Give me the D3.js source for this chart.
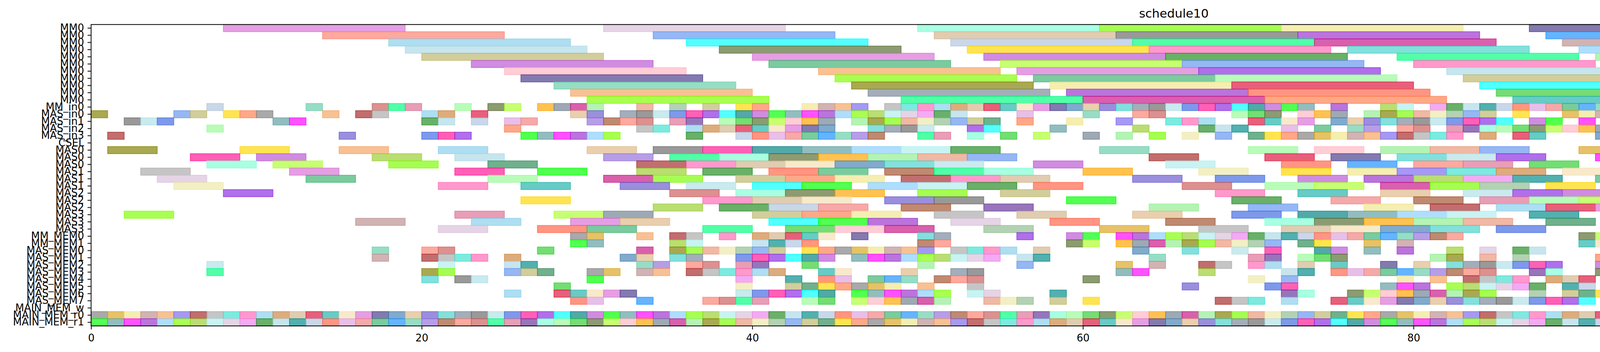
<!DOCTYPE html>
<html>
<head>
<meta charset="utf-8">
<title>schedule10</title>
<style>
    html, body { margin: 0; padding: 0; background: #fff; overflow: hidden; }
    svg { display: block; }
    text { font-family: "DejaVu Sans", sans-serif; fill: #000; }
    g.axis path, g.axis line { stroke: #000; stroke-width: 2; }
    g.axis text { font-size: 26px; }
    rect.task { stroke-width: 2; }
</style>
</head>
<body>
<div id="target"></div>

<script src="https://cdnjs.cloudflare.com/ajax/libs/d3/7.8.5/d3.min.js"></script>
<script>
    var rowLabels = [
        'MM0', 'MM0', 'MM0', 'MM0', 'MM0', 'MM0', 'MM0', 'MM0', 'MM0', 'MM0', 'MM0',
        'MM_in0', 'MAS_in0', 'MAS_in1', 'MAS_in2', 'MAS_in3', 'CSEL',
        'MAS0', 'MAS0', 'MAS0', 'MAS1', 'MAS1', 'MAS1',
        'MAS2', 'MAS2', 'MAS2', 'MAS3', 'MAS3', 'MAS3',
        'MM_MEM0', 'MM_MEM1',
        'MAS_MEM0', 'MAS_MEM1', 'MAS_MEM2', 'MAS_MEM3', 'MAS_MEM4', 'MAS_MEM5', 'MAS_MEM6', 'MAS_MEM7',
        'MAIN_MEM_w', 'MAIN_MEM_r0', 'MAIN_MEM_r1'
    ];

    // start times of the tasks, one list per row; each group has its own task length
    var mm0Length = 11;
    var mm0Starts = [
        [8, 31, 50, 61, 72, 87, 98, 110],
        [14, 34, 51, 62, 73, 88, 100, 111],
        [18, 36, 52, 63, 74, 89, 101, 112],
        [19, 38, 53, 64, 76, 90, 102, 113],
        [20, 40, 54, 65, 79, 91, 103, 114],
        [23, 41, 55, 66, 80, 92, 104, 115],
        [25, 44, 56, 67, 82, 93, 105, 116],
        [26, 45, 57, 68, 83, 94, 106, 117],
        [28, 46, 58, 69, 84, 95, 107, 118],
        [29, 47, 59, 70, 85, 96, 108, 119],
        [30, 49, 60, 71, 86, 97, 109]
    ];

    var inputLength = 1;
    var inputStarts = [
        [7, 13, 17, 18, 19, 22, 24, 25, 27, 28, 29, 30, 33, 35, 37, 39, 40, 43, 44, 45, 46, 48, 49, 50, 51, 52,
            53, 54, 55, 56, 57, 58, 59, 60, 61, 62, 63, 64, 65, 66, 67, 68, 69, 70, 71, 72, 73, 75, 78, 79, 81,
            82, 83, 84, 85, 86, 87, 88, 89, 90, 91, 92, 93, 94, 95, 96, 97, 99, 100, 101, 102, 103, 104, 105,
            106, 107, 108, 109, 110, 111, 112, 113, 114, 115, 116, 117, 118],
        [0, 5, 6, 8, 9, 10, 14, 16, 17, 20, 21, 23, 29, 30, 32, 33, 34, 35, 36, 37, 38, 39, 40, 41, 42, 43, 44,
            45, 46, 47, 48, 49, 50, 51, 52, 56, 60, 63, 64, 69, 70, 71, 73, 74, 75, 77, 78, 79, 80, 81, 82, 83,
            84, 86, 89, 90, 91, 92, 93, 94, 95, 96, 97, 98, 99, 101, 103, 104, 105, 106, 108, 110, 111, 116,
            119, 125],
        [2, 3, 4, 11, 12, 20, 21, 23, 25, 26, 30, 31, 32, 33, 35, 36, 38, 39, 40, 41, 42, 43, 44, 46, 47, 48,
            49, 50, 51, 52, 53, 54, 56, 59, 62, 65, 66, 67, 70, 71, 72, 73, 75, 76, 77, 78, 79, 80, 81, 82, 83,
            84, 85, 87, 88, 90, 95, 96, 97, 100, 102, 106, 107, 109, 114, 115, 117, 123, 126, 127],
        [7, 25, 33, 34, 36, 37, 38, 39, 40, 41, 42, 43, 44, 47, 48, 49, 50, 53, 54, 58, 63, 67, 68, 69, 72, 74,
            76, 77, 79, 80, 82, 83, 84, 85, 86, 87, 88, 89, 90, 91, 92, 93, 94, 96, 97, 98, 100, 102, 103, 104,
            105, 106, 108, 109, 111, 112, 116, 121],
        [1, 15, 20, 21, 22, 26, 27, 28, 29, 30, 31, 36, 39, 40, 41, 42, 43, 44, 45, 46, 47, 50, 51, 53, 55, 57,
            60, 62, 64, 66, 68, 70, 71, 72, 73, 74, 75, 76, 77, 78, 79, 80, 81, 82, 84, 86, 87, 91, 93, 96, 97,
            98, 99, 101, 103, 104, 107, 108, 113, 118, 120, 122, 124]
    ];

    var cselLength = 1;
    var cselStarts = [
        []
    ];

    var masLength = 3;
    var masStarts = [
        [1, 9, 15, 21, 30, 34, 37, 40, 43, 46, 49, 52, 61, 70, 74, 78, 81, 84, 90, 93, 96, 99, 104, 107, 112, 126],
        [6, 10, 17, 22, 31, 35, 38, 41, 44, 47, 50, 53, 64, 71, 75, 79, 82, 85, 91, 94, 97, 100, 105, 109, 117],
        [7, 11, 18, 24, 33, 36, 39, 42, 45, 48, 51, 57, 65, 72, 76, 80, 83, 87, 92, 95, 98, 102, 106, 111, 120],
        [3, 12, 22, 27, 33, 37, 41, 44, 48, 51, 54, 60, 67, 72, 76, 79, 82, 85, 89, 97, 103, 110, 118, 128],
        [4, 13, 24, 31, 34, 39, 42, 45, 49, 52, 55, 63, 68, 73, 77, 80, 83, 86, 91, 98, 107, 115, 124],
        [5, 21, 26, 32, 36, 40, 43, 47, 50, 53, 57, 66, 71, 74, 78, 81, 84, 88, 96, 101, 108, 116, 127],
        [8, 35, 39, 42, 45, 50, 55, 68, 73, 78, 83, 86, 89, 92, 95, 99, 104, 107, 112, 122],
        [26, 37, 40, 43, 48, 51, 59, 69, 75, 80, 84, 87, 90, 93, 97, 101, 105, 109, 113],
        [34, 38, 41, 44, 49, 54, 64, 70, 77, 81, 85, 88, 91, 94, 98, 103, 106, 110, 117],
        [2, 22, 28, 31, 40, 43, 46, 51, 56, 63, 69, 73, 76, 79, 82, 87, 94, 99, 104, 109, 121],
        [16, 23, 29, 32, 41, 44, 47, 52, 58, 65, 71, 74, 77, 80, 83, 88, 97, 100, 105, 114, 123],
        [21, 27, 30, 37, 42, 45, 48, 54, 61, 67, 72, 75, 78, 81, 85, 92, 98, 102, 108, 119, 125]
    ];

    var memLength = 1;
    var memStarts = [
        [29, 30, 33, 35, 36, 38, 40, 41, 42, 43, 44, 46, 50, 51, 56, 59, 60, 62, 63, 64, 65, 66, 67, 68, 69, 70,
            71, 72, 73, 74, 75, 76, 77, 78, 79, 80, 81, 82, 90, 91, 92, 93, 94, 96, 97, 98, 99, 100, 101, 102,
            103, 104, 105, 106, 107, 108, 109, 110, 111, 112, 113, 114, 115, 116, 117, 118, 119, 120, 121, 122,
            123, 124, 125, 126, 127],
        [29, 30, 35, 36, 40, 41, 42, 43, 50, 51, 59, 60, 62, 63, 64, 65, 66, 67, 68, 69, 70, 71, 73, 74, 77, 79,
            90, 91, 92, 93, 96, 97, 98, 99, 100, 101, 102, 103, 106, 107, 108, 111, 112, 113, 114, 115, 116,
            117, 118, 119, 122, 123, 124, 125],
        [17, 20, 21, 27, 33, 35, 36, 37, 38, 39, 40, 41, 43, 44, 45, 46, 47, 48, 49, 50, 52, 53, 54, 55, 57, 63,
            66, 69, 71, 74, 75, 77, 79, 82, 84, 86, 87, 95, 96, 97, 101, 102, 103, 104, 106, 108, 113, 114],
        [17, 20, 21, 22, 23, 25, 32, 33, 35, 36, 39, 40, 41, 42, 43, 44, 46, 47, 48, 49, 50, 51, 52, 53, 54, 56,
            57, 64, 70, 71, 73, 74, 75, 81, 82, 84, 86, 91, 92, 93, 94, 95, 96, 97, 98, 99, 100, 101, 102, 103,
            104, 105, 106, 107, 108, 109, 111, 118],
        [7, 21, 25, 26, 33, 34, 36, 37, 39, 40, 43, 50, 56, 62, 64, 67, 68, 70, 71, 73, 75, 78, 80, 82, 83, 84,
            85, 86, 87, 88, 91, 93, 97, 107, 108, 109, 111, 116, 117],
        [7, 20, 21, 25, 26, 27, 30, 31, 33, 34, 36, 37, 38, 39, 40, 41, 44, 45, 49, 52, 53, 62, 63, 67, 72, 73,
            75, 76, 77, 78, 79, 80, 81, 82, 83, 84, 87, 88, 91, 93, 96, 97, 103, 104, 106, 107, 108, 109, 110,
            113, 120, 126],
        [20, 22, 23, 30, 39, 42, 44, 45, 47, 48, 49, 51, 52, 53, 60, 70, 72, 79, 81, 83, 84, 85, 86, 88, 89, 90,
            95, 96, 98, 99, 102, 103, 104, 105, 106, 107, 108, 109, 112],
        [28, 39, 42, 43, 44, 45, 46, 47, 48, 50, 53, 66, 71, 72, 78, 79, 80, 82, 83, 84, 85, 86, 87, 89, 90, 95,
            96, 97, 98, 99, 103, 104, 105, 108, 109, 110, 111, 112, 116, 121, 127],
        [25, 28, 29, 30, 31, 32, 39, 40, 41, 42, 43, 44, 46, 47, 48, 49, 50, 51, 53, 54, 58, 72, 73, 76, 77, 78,
            79, 80, 81, 82, 83, 84, 87, 89, 90, 91, 92, 93, 94, 96, 97, 100, 103, 104, 105, 106, 110, 111, 115,
            116, 118],
        [29, 30, 33, 37, 38, 39, 40, 43, 44, 46, 47, 48, 49, 50, 51, 54, 55, 56, 58, 60, 68, 69, 70, 72, 75, 76,
            77, 78, 79, 80, 81, 82, 83, 84, 85, 86, 87, 88, 89, 90, 94, 96, 97, 100, 101, 102, 104, 105, 106,
            114, 115, 116, 117]
    ];

    var mainMemLength = 1;
    var mainMemStarts = [
        [],
        [0, 1, 2, 3, 4, 5, 6, 7, 8, 9, 10, 11, 12, 13, 14, 15, 16, 17, 18, 19, 20, 21, 22, 23, 24, 25, 26, 27,
            28, 29, 30, 31, 32, 33, 34, 35, 36, 37, 38, 39, 40, 41, 42, 43, 44, 45, 46, 47, 48, 49, 50, 51, 52,
            53, 54, 55, 56, 57, 58, 59, 60, 61, 62, 63, 64, 65, 66, 67, 68, 69, 70, 71, 72, 73, 74, 75, 76, 77,
            78, 79, 80, 81, 82, 83, 84, 85, 86, 87, 88, 89, 90, 91, 92, 93, 94, 95, 96, 97, 98, 99, 100, 101],
        [0, 1, 2, 3, 4, 5, 6, 7, 8, 9, 10, 11, 12, 13, 14, 15, 16, 17, 18, 19, 20, 21, 22, 23, 24, 25, 26, 27,
            28, 29, 30, 31, 32, 33, 34, 35, 36, 37, 38, 39, 40, 41, 42, 43, 44, 45, 46, 47, 48, 49, 50, 51, 52,
            53, 54, 55, 56, 57, 58, 59, 60, 61, 62, 63, 64, 65, 66, 67, 68, 69, 70, 71, 72, 73, 74, 75, 76, 77,
            78, 79, 80, 81, 82, 83, 84, 85, 86, 87, 88, 89, 90, 91, 92, 93, 94, 95]
    ];

    var xTicks = [0, 20, 40, 60, 80, 100, 120];
    var xMax = 131;

    var palette = ['turquoise', 'goldenrod', 'darkseagreen', 'slategray', 'aquamarine', 'mediumpurple',
        'lightsteelblue', 'yellowgreen', 'mediumorchid', 'dimgray', 'orchid', 'hotpink', 'khaki',
        'cornflowerblue', 'mediumvioletred', 'palegreen', 'sienna', 'tomato', 'paleturquoise', 'lime',
        'powderblue', 'darkslateblue', 'skyblue', 'rosybrown', 'darkkhaki', 'lightgreen', 'limegreen', 'salmon',
        'plum', 'thistle', 'cadetblue', 'royalblue', 'steelblue', 'peru', 'sandybrown', 'seagreen', 'olive',
        'darkolivegreen', 'indianred', 'lightcoral', 'violet', 'magenta', 'deeppink', 'burlywood', 'tan',
        'mediumslateblue', 'gold', 'lawngreen', 'greenyellow', 'springgreen', 'mediumseagreen', 'forestgreen',
        'darkorchid', 'blueviolet', 'slateblue', 'crimson', 'brown', 'coral', 'darksalmon', 'lightpink',
        'palevioletred', 'dodgerblue', 'lightblue', 'lightskyblue', 'cyan', 'mediumturquoise', 'lightseagreen',
        'darkgray', 'gray', 'palegoldenrod', 'orange', 'rebeccapurple', 'mediumaquamarine', 'darkcyan',
        'chartreuse', 'teal', 'lightslategray', 'wheat'];

    //flatten the row groups (top to bottom) into one list of tasks
    var rowGroups = [
        [mm0Starts, mm0Length], [inputStarts, inputLength], [cselStarts, cselLength],
        [masStarts, masLength], [memStarts, memLength], [mainMemStarts, mainMemLength]
    ];
    var tasks = [];
    var rowIndex = 0;
    rowGroups.forEach(function (group) {
        group[0].forEach(function (starts) {
            var r = rowIndex;
            starts.forEach(function (s) {
                tasks.push({row: r, start: s, end: s + group[1]});
            });
            rowIndex++;
        });
    });

    var width = 5795, height = 900;
    var margin = {left: 233.2, right: 18, top: 62.7, bottom: 66.7};

    var svg = d3.select('#target')
            .append('svg')
            .attr('width', width)
            .attr('height', height);

    var x = d3.scaleLinear()
            .domain([0, xMax])
            .range([margin.left, width - margin.right]);

    var y = d3.scaleBand()
            .domain(d3.range(rowLabels.length))
            .range([margin.top, height - margin.bottom])
            .padding(0);

    var color = function (t) {
        return palette[(t.row * 29 + t.start * 11) % palette.length];
    };

    svg.append('g')
            .attr('class', 'tasks')
            .selectAll('rect')
            .data(tasks)
            .enter()
            .append('rect')
            .attr('class', 'task')
            .attr('x', function (t) { return x(t.start); })
            .attr('y', function (t) { return y(t.row); })
            .attr('width', function (t) { return x(t.end) - x(t.start); })
            .attr('height', y.bandwidth())
            .attr('fill', color)
            .attr('fill-opacity', 0.68)
            .attr('stroke', color)
            .attr('stroke-opacity', 0.68);

    var xAxis = d3.axisBottom(x)
            .tickValues(xTicks)
            .tickFormat(d3.format('d'))
            .tickSize(9)
            .tickPadding(12);

    svg.append('g')
            .attr('class', 'axis x')
            .attr('transform', 'translate(0,' + (height - margin.bottom) + ')')
            .call(xAxis)
            .select('.domain').remove();

    var yAxis = d3.axisLeft(y)
            .tickFormat(function (i) { return rowLabels[i]; })
            .tickSize(9)
            .tickPadding(9);

    svg.append('g')
            .attr('class', 'axis y')
            .attr('transform', 'translate(' + margin.left + ',0)')
            .call(yAxis)
            .select('.domain').remove();

    //frame around the plot area
    svg.append('rect')
            .attr('x', margin.left)
            .attr('y', margin.top)
            .attr('width', width - margin.right - margin.left)
            .attr('height', height - margin.bottom - margin.top)
            .attr('fill', 'none')
            .attr('stroke', '#000')
            .attr('stroke-width', 2);

    svg.append('text')
            .attr('x', (margin.left + width - margin.right) / 2)
            .attr('y', 45)
            .attr('text-anchor', 'middle')
            .style('font-size', '31px')
            .text('schedule10');
</script>

</body>
</html>
